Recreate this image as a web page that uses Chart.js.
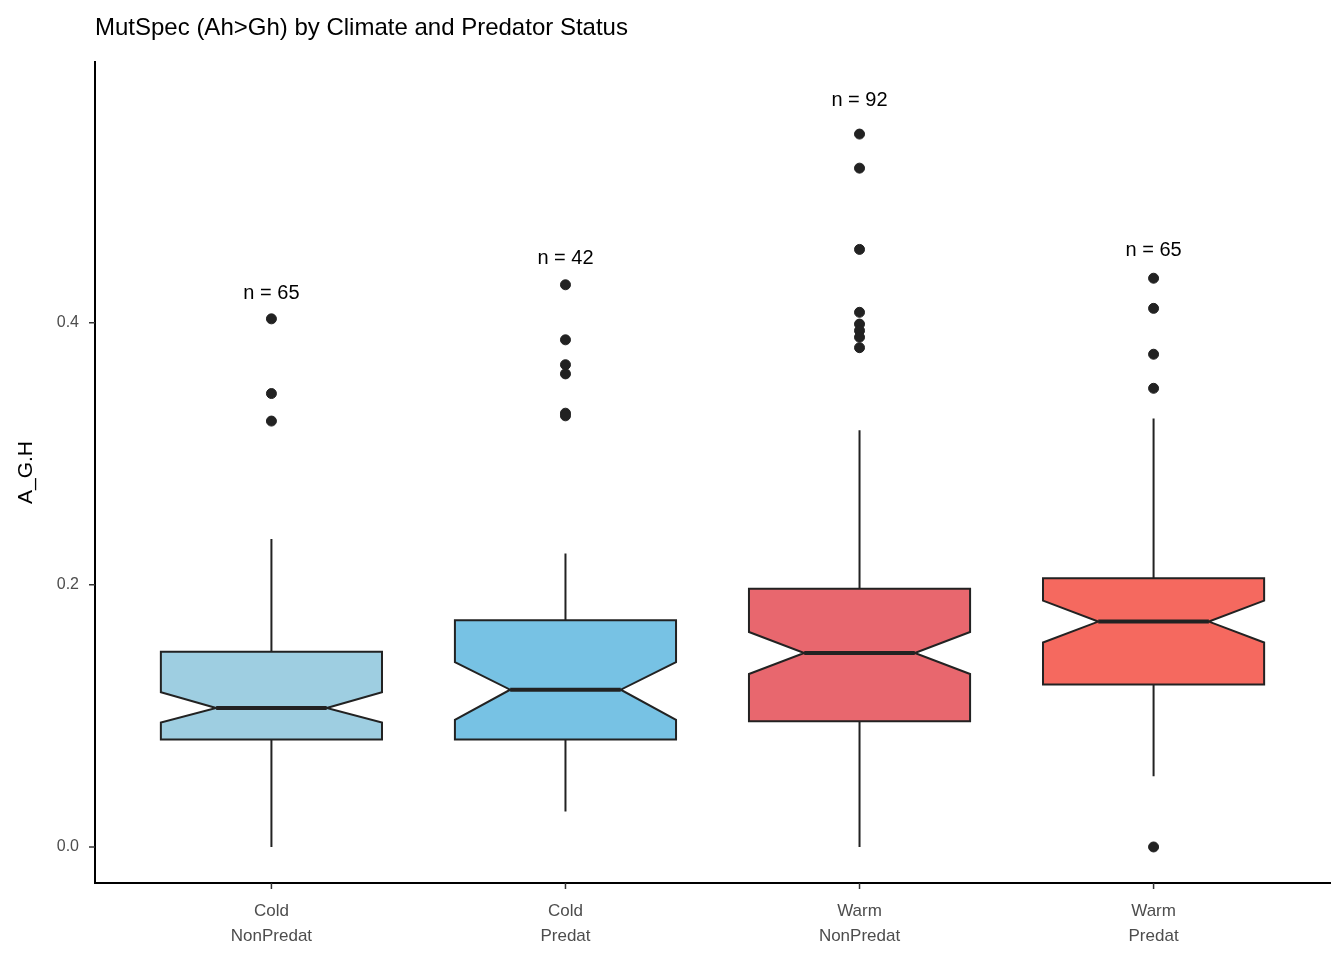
<!DOCTYPE html>
<html>
<head>
<meta charset="utf-8">
<script src="https://cdn.jsdelivr.net/npm/chart.js@4"></script>
<style>
  body { margin: 0; background: #fff; }
</style>
</head>
<body>
<canvas id="myChart" width="1344" height="960"></canvas>
<script>
// Box data
const groups = [["Cold", "NonPredat"], ["Cold", "Predat"], ["Warm", "NonPredat"], ["Warm", "Predat"]];
const fills = ["#9ecee1", "#77c2e4", "#e8676e", "#f5695f"];
const whiskerLow = [0.0, 0.027, 0.0, 0.054];
const q1 = [0.082, 0.082, 0.096, 0.124];
const median = [0.106, 0.120, 0.148, 0.172];
const q3 = [0.149, 0.173, 0.197, 0.205];
const whiskerHigh = [0.235, 0.224, 0.318, 0.327];
const notchLow = [0.095, 0.097, 0.132, 0.156];
const notchHigh = [0.118, 0.141, 0.164, 0.188];
const outliers = [
  [0.403, 0.346, 0.325],
  [0.429, 0.387, 0.368, 0.361, 0.331, 0.329],
  [0.544, 0.518, 0.456, 0.408, 0.399, 0.394, 0.389, 0.381],
  [0.434, 0.411, 0.376, 0.350, 0.0]
];
const counts = [65, 42, 92, 65];
const countLabelY = [0.422, 0.449, 0.570, 0.455];
const yTicks = [0, 0.2, 0.4];
const titleText = 'MutSpec (Ah>Gh) by Climate and Predator Status';

// Points for the outliers
const outlierPoints = [];
outliers.forEach((list, i) => {
  list.forEach(v => outlierPoints.push({ x: i + 1, y: v }));
});

// Plugin that draws the notched boxes, whiskers, n labels, tick marks and title
const boxPlugin = {
  id: 'notchedBoxes',
  beforeDatasetsDraw(chart) {
    const ctx = chart.ctx;
    const xs = chart.scales.x, ys = chart.scales.y;
    const area = chart.chartArea;
    const half = (xs.getPixelForValue(1.376) - xs.getPixelForValue(1));
    ctx.save();
    // title
    ctx.fillStyle = '#000';
    ctx.font = '24px "Liberation Sans", Arial, sans-serif';
    ctx.textAlign = 'left';
    ctx.textBaseline = 'middle';
    ctx.fillText(titleText, area.left, 28);
    // tick marks
    ctx.strokeStyle = '#333';
    ctx.lineWidth = 1.5;
    ctx.beginPath();
    yTicks.forEach(v => {
      const py = ys.getPixelForValue(v);
      ctx.moveTo(area.left - 6, py); ctx.lineTo(area.left, py);
    });
    groups.forEach((g, i) => {
      const px = xs.getPixelForValue(i + 1);
      ctx.moveTo(px, area.bottom); ctx.lineTo(px, area.bottom + 6);
    });
    ctx.stroke();

    ctx.strokeStyle = '#222';
    ctx.lineWidth = 2;
    groups.forEach((g, i) => {
      const cx = xs.getPixelForValue(i + 1);
      const y = v => ys.getPixelForValue(v);
      // whiskers
      ctx.beginPath();
      ctx.moveTo(cx, y(whiskerHigh[i])); ctx.lineTo(cx, y(q3[i]));
      ctx.moveTo(cx, y(q1[i])); ctx.lineTo(cx, y(whiskerLow[i]));
      ctx.stroke();
      // notched box
      const l = cx - half, r = cx + half, nl = cx - half / 2, nr = cx + half / 2;
      ctx.beginPath();
      ctx.moveTo(l, y(q3[i]));
      ctx.lineTo(r, y(q3[i]));
      ctx.lineTo(r, y(notchHigh[i]));
      ctx.lineTo(nr, y(median[i]));
      ctx.lineTo(r, y(notchLow[i]));
      ctx.lineTo(r, y(q1[i]));
      ctx.lineTo(l, y(q1[i]));
      ctx.lineTo(l, y(notchLow[i]));
      ctx.lineTo(nl, y(median[i]));
      ctx.lineTo(l, y(notchHigh[i]));
      ctx.closePath();
      ctx.fillStyle = fills[i];
      ctx.fill();
      ctx.stroke();
      // median
      ctx.lineWidth = 4;
      ctx.beginPath();
      ctx.moveTo(nl, y(median[i])); ctx.lineTo(nr, y(median[i]));
      ctx.stroke();
      ctx.lineWidth = 2;
      // n label
      ctx.fillStyle = '#000';
      ctx.font = '20px "Liberation Sans", Arial, sans-serif';
      ctx.textAlign = 'center';
      ctx.textBaseline = 'middle';
      ctx.fillText('n = ' + counts[i], cx, y(countLabelY[i]));
    });
    ctx.restore();
  }
};

const tickFont = { family: '"Liberation Sans", Arial, sans-serif', size: 17, lineHeight: 1.45 };
const chartX = document.getElementById('myChart').getContext('2d');
const chart = new Chart(chartX, {
  type: 'scatter',
  data: {
    datasets: [{
      data: outlierPoints,
      backgroundColor: '#222',
      borderColor: '#222',
      pointRadius: 5,
      pointHoverRadius: 5
    }]
  },
  plugins: [boxPlugin],
  options: {
    responsive: false,
    animation: false,
    layout: { padding: { top: 62, right: 14, left: 10, bottom: 0 } },
    plugins: {
      legend: { display: false },
      tooltip: { enabled: false },
      title: { display: false }
    },
    scales: {
      x: {
        type: 'linear',
        min: 0.4,
        max: 4.6,
        afterBuildTicks: axis => { axis.ticks = [1, 2, 3, 4].map(v => ({ value: v })); },
        afterFit: axis => { axis.height = 77; },
        ticks: {
          color: '#4d4d4d',
          font: tickFont,
          maxRotation: 0,
          padding: 8,
          callback: v => groups[v - 1]
        },
        grid: { display: false },
        border: { color: '#000', width: 2 }
      },
      y: {
        min: -0.0275,
        max: 0.599,
        afterBuildTicks: axis => { axis.ticks = yTicks.map(v => ({ value: v })); },
        afterFit: axis => { axis.width = 85; },
        ticks: {
          color: '#4d4d4d',
          font: { family: '"Liberation Sans", Arial, sans-serif', size: 16 },
          padding: 8,
          callback: v => v.toFixed(1)
        },
        title: {
          display: true,
          text: 'A_G.H',
          color: '#000',
          font: { family: '"Liberation Sans", Arial, sans-serif', size: 21 }
        },
        grid: { display: false },
        border: { color: '#000', width: 2 }
      }
    }
  }
});
</script>
</body>
</html>
